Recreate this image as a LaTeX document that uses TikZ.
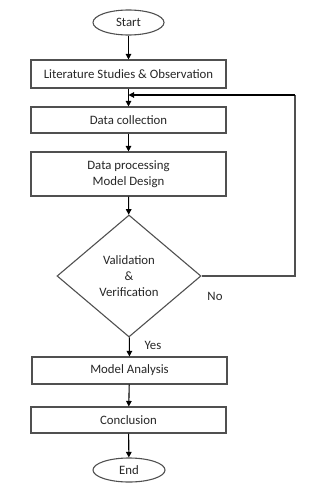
\documentclass[tikz,border=0pt]{standalone}
\usepackage{fontspec}
\setmainfont{Carlito}
\usepackage{tikz}
\usetikzlibrary{arrows.meta,positioning,calc,shapes.geometric}
\definecolor{LineGray}{HTML}{505050}
\definecolor{TextGray}{HTML}{262626}

\begin{document}
\begin{tikzpicture}[x=1pt,y=-1pt,
    font=\fontsize{12.8}{16}\selectfont,text=TextGray,
    stepbox/.style={draw=LineGray,line width=1.1pt,minimum width=195pt,inner sep=0pt,align=center},
    terminal/.style={ellipse,draw=LineGray,line width=1.1pt,inner sep=0pt},
    decision/.style={diamond,draw=LineGray,line width=1.1pt,inner sep=0pt,aspect=1.18,
      minimum width=144pt,minimum height=122pt,align=center},
    flow/.style={-{Triangle[length=5.5pt,width=5.5pt]},line width=1.1pt,black},
    link/.style={line width=1.1pt,LineGray}]
  \useasboundingbox (0,0) rectangle (310,490);
  % terminals and steps
  \node[terminal,minimum width=71pt,minimum height=25pt] (start) at (128.5,22.5) {Start};
  \node[stepbox,minimum height=28pt] (lit) at (128.5,74) {Literature Studies \& Observation};
  \node[stepbox,minimum height=26pt] (coll) at (128.5,120) {Data collection};
  \node[stepbox,minimum height=44pt] (proc) at (128.5,174) {Data processing\\Model Design};
  \node[decision] (valid) at (129,276) {Validation\\\&\\Verification};
  \node[stepbox,minimum height=27pt] (anal) at (129.5,370.5) {Model Analysis};
  \node[stepbox,minimum height=26pt] (concl) at (128.5,420) {Conclusion};
  \node[terminal,minimum width=72pt,minimum height=24pt] (end) at (129,470) {End};
  % labels of the decision
  \node (no) at (215,296) {No};
  \node (yes) at (153,345) {Yes};
  % connectors
  \draw[flow] (start) -- (lit);
  \draw[flow] (lit) -- (coll);
  \draw[flow] (coll) -- (proc);
  \draw[flow] (proc) -- (valid);
  \draw[flow] (valid) -- (anal);
  \draw[flow] (anal) -- (concl);
  \draw[flow] (concl) -- (end);
  % loop back
  \coordinate (corner) at (295,95);
  \coordinate (back) at (lit.south |- corner);
  \draw[link] (valid.east) -| (corner);
  \draw[flow] (corner) -- (back);
\end{tikzpicture}
\end{document}
